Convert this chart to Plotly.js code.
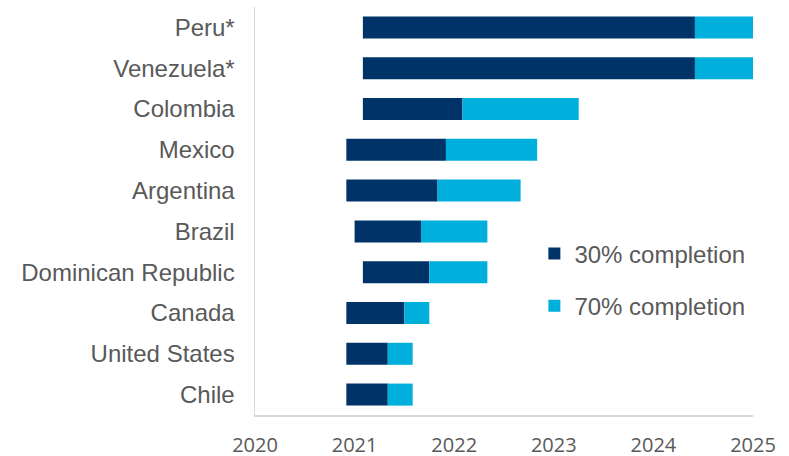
<!DOCTYPE html>
<html>
<head>
<meta charset="utf-8">
<script src="https://cdn.plot.ly/plotly-3.0.1.min.js"></script>
<style>html,body{margin:0;padding:0;background:#fff;}#chart{width:789px;height:456px;}</style>
</head>
<body>
<div id="chart"></div>
<script>
// Countries listed top to bottom
const countries = ["Peru*", "Venezuela*", "Colombia", "Mexico", "Argentina", "Brazil", "Dominican Republic", "Canada", "United States", "Chile"];
// Start date (decimal year)
const startDate = [2021.083, 2021.083, 2021.083, 2020.917, 2020.917, 2021.0, 2021.083, 2020.917, 2020.917, 2020.917];
// Date of 30% completion
const date30 = [2024.417, 2024.417, 2022.083, 2021.917, 2021.833, 2021.667, 2021.75, 2021.5, 2021.333, 2021.333];
// Date of 70% completion
const date70 = [2025.0, 2025.0, 2023.25, 2022.833, 2022.667, 2022.333, 2022.333, 2021.75, 2021.583, 2021.583];
const xTicks = [2020, 2021, 2022, 2023, 2024, 2025];
const seriesNames = ["30% completion", "70% completion"];

const dur30 = date30.map((d, i) => d - startDate[i]);
const dur70 = date70.map((d, i) => d - date30[i]);

const traces = [
  {type: "bar", orientation: "h", name: seriesNames[0], y: countries, x: dur30, base: startDate,
   marker: {color: "#003469", line: {width: 0}}, legendgroup: "a", hoverinfo: "skip"},
  {type: "bar", orientation: "h", name: seriesNames[1], y: countries, x: dur70, base: date30,
   marker: {color: "#00AFDC", line: {width: 0}}, legendgroup: "b", hoverinfo: "skip"}
];

const layout = {
  width: 789, height: 456,
  margin: {l: 255, r: 36, t: 7, b: 41, pad: 0},
  paper_bgcolor: "#fff", plot_bgcolor: "#fff",
  barmode: "overlay",
  bargap: 0.46,
  showlegend: true,
  legend: {
    x: 0.561, xanchor: "left", y: 0.45, yanchor: "top",
    font: {family: "Liberation Sans, Arial, sans-serif", size: 24, color: "#595959"},
    tracegroupgap: 18, bgcolor: "rgba(0,0,0,0)", traceorder: "grouped"
  },
  xaxis: {
    range: [2020, 2025], tickvals: xTicks, ticktext: xTicks.map(String),
    showgrid: false, zeroline: false, showline: true, linecolor: "#D9D9D9", linewidth: 1.5,
    ticks: "", ticklabelstandoff: 11,
    tickfont: {family: "Open Sans, sans-serif", size: 20, color: "#595959"},
    fixedrange: true
  },
  yaxis: {
    type: "category", autorange: "reversed",
    showgrid: false, zeroline: false, showline: true, linecolor: "#D9D9D9", linewidth: 1.5,
    ticks: "", ticklabelstandoff: 14,
    tickfont: {family: "Liberation Sans, Arial, sans-serif", size: 24, color: "#595959"},
    fixedrange: true
  }
};

Plotly.newPlot("chart", traces, layout, {displayModeBar: false, staticPlot: true});
</script>
</body>
</html>
